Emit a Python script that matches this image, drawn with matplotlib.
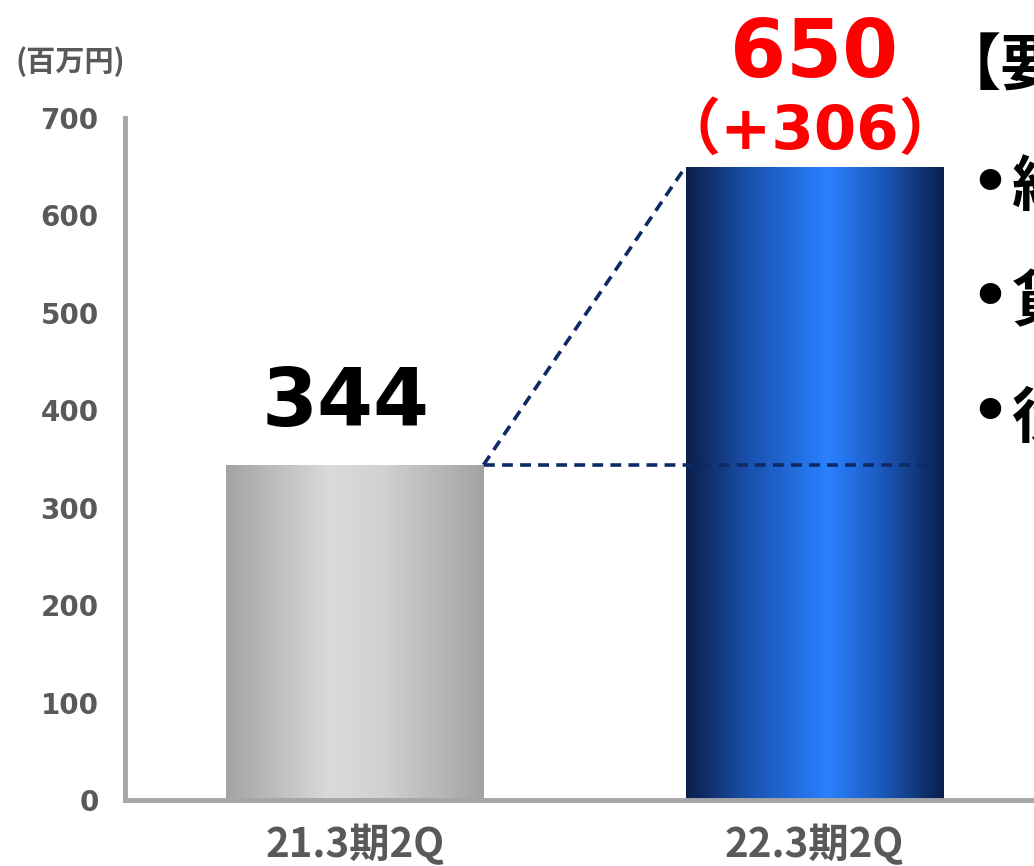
import numpy as np
import matplotlib
matplotlib.use("Agg")
import matplotlib.pyplot as plt
from matplotlib.colors import LinearSegmentedColormap

categories = ["21.3期2Q", "22.3期2Q"]
values = [344, 650]
value_labels = ["344", "650"]
diff_label = "（+306）"
unit_label = "(百万円)"
yticks = [0, 100, 200, 300, 400, 500, 600, 700]
side_title = "【要因】"
side_items = ["経常利益", "貸倒引当", "役員報酬"]

CJK = ["Noto Sans CJK JP", "DejaVu Sans"]
W, H = 1034, 866
fig = plt.figure(figsize=(W / 100, H / 100), dpi=100)
ax = fig.add_axes([125 / W, (H - 800) / H, (1034 - 125) / W, (800 - 118) / H])

x = np.arange(len(categories))
bw = 0.56

cmaps = [
    LinearSegmentedColormap.from_list("g", [(0, "#a3a3a3"), (0.4, "#dadada"), (0.6, "#d2d2d2"), (1, "#a3a3a3")]),
    LinearSegmentedColormap.from_list("b", [(0, "#0b1f4a"), (0.25, "#1a52b0"), (0.55, "#2a80ff"), (0.75, "#1c5bc0"), (1, "#0a1f4c")]),
]
grad = np.linspace(0, 1, 256).reshape(1, -1)
bars = ax.bar(x, values, width=bw, color="none", edgecolor="none")
for b, cm in zip(bars, cmaps):
    x0, w, h = b.get_x(), b.get_width(), b.get_height()
    im = ax.imshow(grad, cmap=cm, aspect="auto", extent=[x0, x0 + w, 0, h], zorder=2)
    im.set_clip_path(b)
ax.set_xlim(-0.501, 1.479)
ax.set_ylim(0, 700)

# dashed connector lines
navy = "#0e2a66"
ax.plot([x[0] + bw / 2, x[1] - bw / 2], [values[0], values[1]], ls=(0, (3, 2)), color=navy, lw=2.6, zorder=3)
ax.plot([x[0] + bw / 2, x[1] + bw / 2 - 0.03], [values[0], values[0]], ls=(0, (3, 2)), color=navy, lw=2.6, zorder=3)

# value labels
ax.text(x[0] - 0.02, values[0] + 22, value_labels[0], ha="center", va="bottom", fontsize=58,
        fontweight="bold", color="black", family="DejaVu Sans")
ax.text(x[1], values[1] + 75, value_labels[1], ha="center", va="bottom", fontsize=58,
        fontweight="bold", color="#ff0000", family="DejaVu Sans")
ax.text(x[1] - 0.01, values[1] + 5, diff_label, ha="center", va="bottom", fontsize=44,
        fontweight="bold", color="#ff0000", family=["DejaVu Sans", "Noto Sans CJK JP"])

# axes styling
for s in ["top", "right"]:
    ax.spines[s].set_visible(False)
for s in ["left", "bottom"]:
    ax.spines[s].set_color("#a6a6a6")
    ax.spines[s].set_linewidth(3.5)
ax.set_yticks(yticks)
ax.set_yticklabels([str(t) for t in yticks], fontsize=20, fontweight="bold", color="#595959")
ax.tick_params(axis="y", length=0, pad=19)
ax.set_xticks(x)
ax.set_xticklabels(categories, fontsize=29, fontweight="bold", color="#595959", family=CJK)
ax.tick_params(axis="x", length=0, pad=18)

fig.text(70 / W, 1 - 62 / H, unit_label, ha="center", va="center", fontsize=21,
         fontweight="bold", color="#595959", family=CJK)

# side text (clipped by figure edge)
fig.text(940 / W, 1 - 68 / H, side_title, ha="left", va="center", fontsize=44,
         fontweight="bold", color="black", family=CJK)
for i, item in enumerate(side_items):
    yy = 185 + i * 115
    fig.text(970 / W, 1 - yy / H, "•", ha="left", va="center", fontsize=44,
             fontweight="bold", color="black", family="DejaVu Sans")
    fig.text(1012 / W, 1 - (yy + 4) / H, item, ha="left", va="center", fontsize=44,
             fontweight="bold", color="black", family=CJK)

fig.savefig("out.png", dpi=100)
